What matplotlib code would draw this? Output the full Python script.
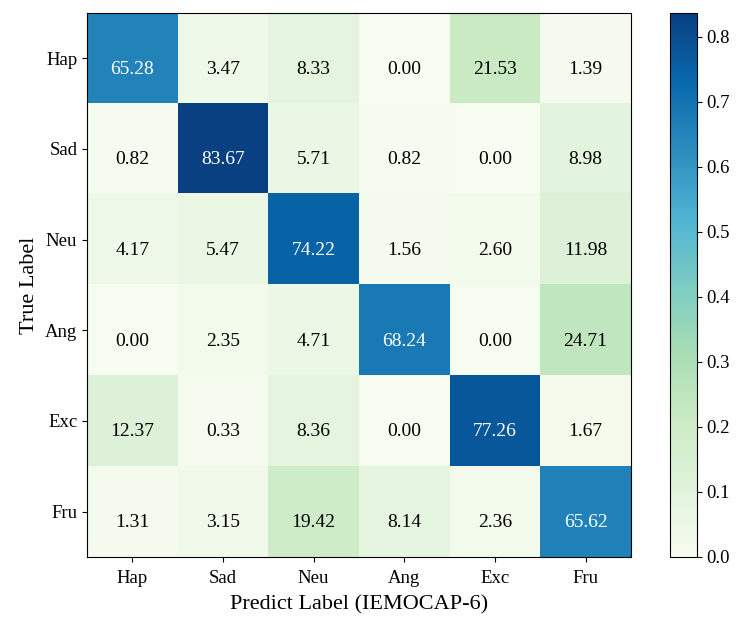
"""
Confusion matrix plot, IEMOCAP-6
"""

# LIBRARY

import numpy as np
import matplotlib
matplotlib.use("Agg")
import matplotlib.pyplot as plt

plt.rcParams['font.family'] = ['Liberation Serif', 'DejaVu Serif']

# DATA

labels = ['Hap', 'Sad', 'Neu', 'Ang', 'Exc', 'Fru']
row_hap = [65.28, 3.47, 8.33, 0.00, 21.53, 1.39]
row_sad = [0.82, 83.67, 5.71, 0.82, 0.00, 8.98]
row_neu = [4.17, 5.47, 74.22, 1.56, 2.60, 11.98]
row_ang = [0.00, 2.35, 4.71, 68.24, 0.00, 24.71]
row_exc = [12.37, 0.33, 8.36, 0.00, 77.26, 1.67]
row_fru = [1.31, 3.15, 19.42, 8.14, 2.36, 65.62]

# PLOT

cm = np.array([row_hap, row_sad, row_neu, row_ang, row_exc, row_fru]) / 100.0

fig = plt.figure(figsize=(7.47, 6.29), dpi=100)
ax = fig.add_axes([0.1165, 0.1145, 0.728, 0.865])
cax = fig.add_axes([0.897, 0.1145, 0.036, 0.865])

im = ax.imshow(cm, cmap='GnBu', vmin=0, vmax=cm.max(), aspect='auto')
cbar = fig.colorbar(im, cax=cax)
cbar.set_ticks(np.arange(0, 0.81, 0.1))
cbar.ax.tick_params(labelsize=13.5)

thresh = cm.max() / 2.0
for i in range(len(labels)):
    for j in range(len(labels)):
        ax.text(j, i + 0.12, "%.2f" % (cm[i, j] * 100), ha='center', va='center',
                fontsize=14, color='white' if cm[i, j] > thresh else 'black')

ax.set_xticks(range(len(labels)))
ax.set_yticks(range(len(labels)))
ax.set_xticklabels(labels, fontsize=13.5)
ax.set_yticklabels(labels, fontsize=13.5)
ax.tick_params(axis='x', pad=6)
ax.set_xlabel("Predict Label (IEMOCAP-6)", fontsize=16, labelpad=6)
ax.set_ylabel("True Label", fontsize=16)

fig.savefig("out.png", dpi=100)
